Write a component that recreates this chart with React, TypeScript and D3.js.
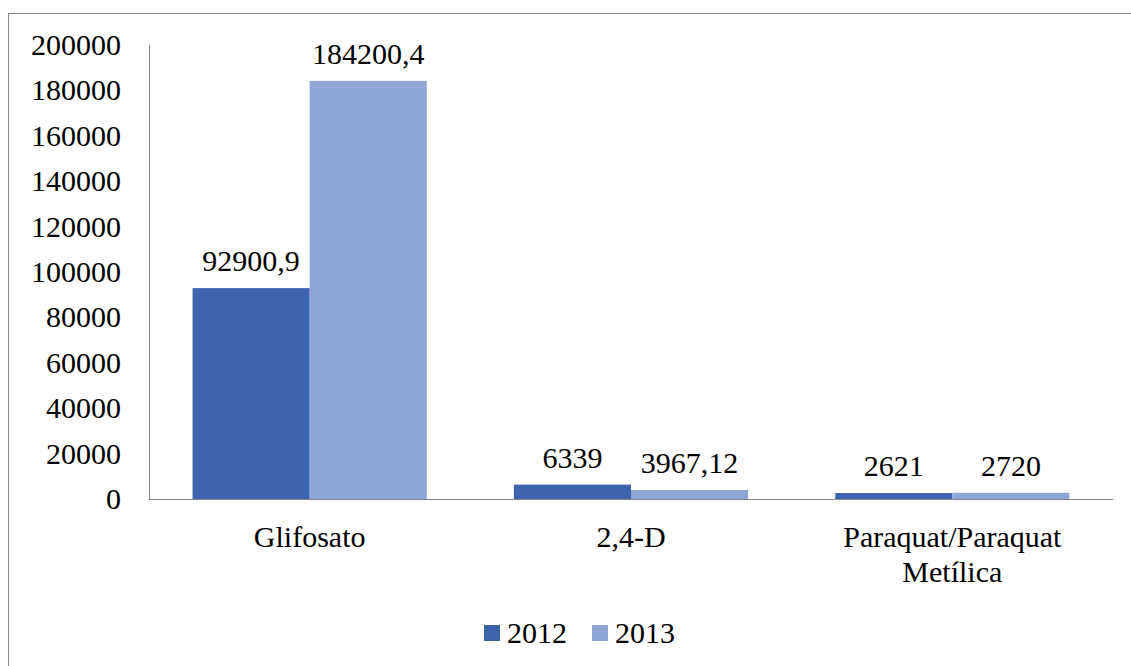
import * as d3 from "d3";

// chart data
const categories = ["Glifosato", "2,4-D", "Paraquat/Paraquat Metílica"];
const categoryLines = [["Glifosato"], ["2,4-D"], ["Paraquat/Paraquat", "Metílica"]];
const series = ["2012", "2013"];
const values2012 = [92900.9, 6339, 2621];
const values2013 = [184200.4, 3967.12, 2720];
const labels2012 = ["92900,9", "6339", "2621"];
const labels2013 = ["184200,4", "3967,12", "2720"];
const yTicks = [0, 20000, 40000, 60000, 80000, 100000, 120000, 140000, 160000, 180000, 200000];

const colors = ["#3d64ad", "#8fa5d5"];
const FONT = "Times";
const CSS = `text { font-family: "Liberation Serif", Tinos, Times, serif !important; font-size: 30px; fill: #000; }`;

// page coordinates (svg is pinned to the page's top-left corner)
const left = 149, right = 1113, top = 45, bottom = 499;

export default function App() {
  const x = d3.scaleBand<string>().domain(categories).range([left, right]);
  const xs = d3.scaleBand<string>().domain(series).range([0, x.bandwidth()]).paddingOuter(0.372);
  const y = d3.scaleLinear().domain([0, 200000]).range([bottom, top]);

  const vals = [values2012, values2013];
  const labels = [labels2012, labels2013];
  const legendX = [484, 592];

  return (
    <svg width={1131} height={666} style={{ position: "absolute", left: 0, top: 0 }}>
      <style>{CSS}</style>

      {/* outer chart border, runs off right/bottom edges */}
      <rect x={8.5} y={13.5} width={1200} height={800} fill="none" stroke="#8c8c8c" />

      {/* bars + value labels */}
      {categories.map((c, ci) =>
        series.map((s, si) => {
          const v = vals[si][ci];
          const bx = x(c)! + xs(s)!;
          return (
            <g key={c + s}>
              <rect x={bx} y={y(v)} width={xs.bandwidth()} height={bottom - y(v)} fill={colors[si]} />
              <text x={bx + xs.bandwidth() / 2} y={y(v) - 17} textAnchor="middle" fontFamily={FONT} fontSize={30}>
                {labels[si][ci]}
              </text>
            </g>
          );
        })
      )}

      {/* axis lines */}
      <line x1={left + 0.5} x2={left + 0.5} y1={top} y2={bottom} stroke="#868686" />
      <line x1={left} x2={right} y1={bottom + 0.5} y2={bottom + 0.5} stroke="#868686" />

      {/* y tick labels */}
      {yTicks.map(t => (
        <text key={t} x={121} y={y(t) + 10} textAnchor="end" fontFamily={FONT} fontSize={30}>
          {String(t)}
        </text>
      ))}

      {/* category labels */}
      {categories.map((c, ci) =>
        categoryLines[ci].map((line, li) => (
          <text
            key={c + li}
            x={x(c)! + x.bandwidth() / 2}
            y={547 + li * 35}
            textAnchor="middle"
            fontFamily={FONT}
            fontSize={30}
          >
            {line}
          </text>
        ))
      )}

      {/* legend */}
      {series.map((s, si) => (
        <g key={s}>
          <rect x={legendX[si]} y={625} width={16} height={16} fill={colors[si]} />
          <text x={legendX[si] + 23} y={643} fontFamily={FONT} fontSize={30}>
            {s}
          </text>
        </g>
      ))}
    </svg>
  );
}
